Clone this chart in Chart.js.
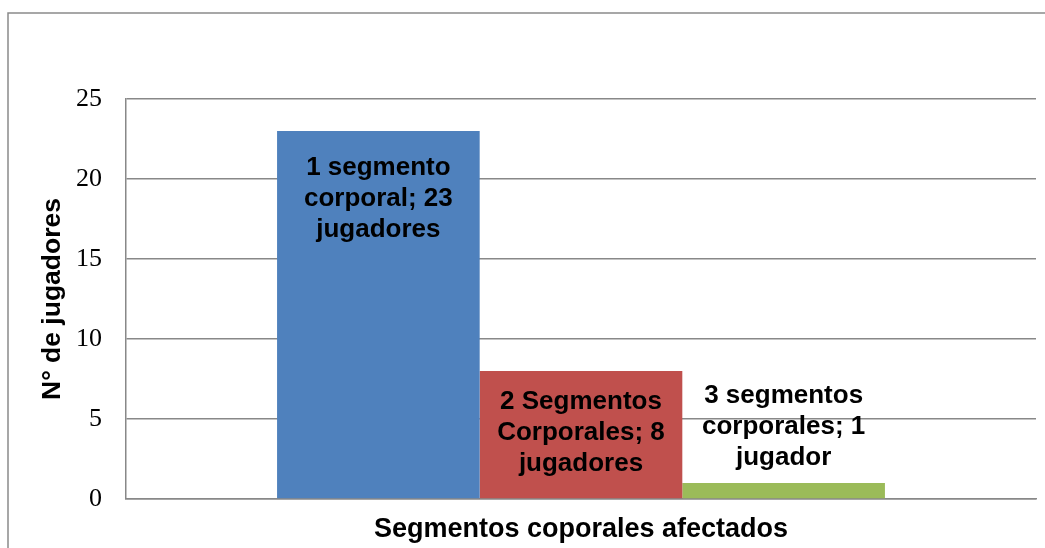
<!DOCTYPE html>
<html>
<head>
<meta charset="utf-8">
<script src="https://cdn.jsdelivr.net/npm/chart.js@4.4.0/dist/chart.umd.min.js"></script>
<style>
  html, body { margin: 0; padding: 0; background: #fff; }
  #wrap { width: 1045px; height: 548px; position: relative; }
</style>
</head>
<body>
<div id="wrap"><canvas id="chart" width="1045" height="548"></canvas></div>
<script>
// ── Datos ──
const categories = ['Segmentos coporales afectados'];
const seriesNames = ['1 segmento corporal', '2 Segmentos Corporales', '3 segmentos corporales'];
const seriesValues = [23, 8, 1];
const seriesColors = ['#4F81BD', '#C0504D', '#9BBB59'];
const barLabels = [
  ['1 segmento', 'corporal; 23', 'jugadores'],
  ['2 Segmentos', 'Corporales; 8', 'jugadores'],
  ['3 segmentos', 'corporales; 1', 'jugador'],
];
const yTicks = [0, 5, 10, 15, 20, 25];

const GRID = '#888888';

// marco exterior (izquierda, arriba)
const framePlugin = {
  id: 'frame',
  beforeDraw(chart) {
    const ctx = chart.ctx;
    ctx.save();
    ctx.strokeStyle = '#8a8a8a';
    ctx.lineWidth = 1.5;
    ctx.beginPath();
    ctx.moveTo(8, 548);
    ctx.lineTo(8, 13);
    ctx.lineTo(1045, 13);
    ctx.stroke();
    ctx.restore();
  }
};

// etiquetas de datos dentro/encima de las barras
const labelPlugin = {
  id: 'barLabels',
  afterDatasetsDraw(chart) {
    const ctx = chart.ctx;
    ctx.save();
    ctx.font = 'bold 26px "Liberation Sans", Arial, sans-serif';
    ctx.fillStyle = '#000';
    ctx.textAlign = 'center';
    ctx.textBaseline = 'middle';
    const lh = 31;
    chart.data.datasets.forEach((ds, i) => {
      const bar = chart.getDatasetMeta(i).data[0];
      const lines = barLabels[i];
      let y0;
      if (i === 2) y0 = bar.y - 25 - lh * (lines.length - 1);
      else y0 = bar.y + (i === 0 ? 37 : 31);
      lines.forEach((t, k) => ctx.fillText(t, bar.x, y0 + k * lh));
    });
    ctx.restore();
  }
};

new Chart(document.getElementById('chart'), {
  type: 'bar',
  data: {
    labels: categories,
    datasets: seriesNames.map((name, i) => ({
      label: name,
      data: [seriesValues[i]],
      backgroundColor: seriesColors[i],
      borderWidth: 0,
      barPercentage: 1,
      categoryPercentage: 0.668,
    })),
  },
  options: {
    responsive: false,
    animation: false,
    layout: { padding: { top: 99, right: 9, bottom: 0, left: 0 } },
    plugins: {
      legend: { display: false },
      tooltip: { enabled: false },
    },
    scales: {
      x: {
        afterFit: s => { s.height = 49; },
        grid: { display: false },
        border: { display: true, color: GRID, width: 1.5 },
        ticks: { display: false },
        title: {
          display: true,
          text: categories[0],
          color: '#000',
          font: { family: '"Liberation Sans", Arial, sans-serif', size: 27, weight: 'bold' },
          padding: { top: 0, bottom: 2 },
        },
      },
      y: {
        min: 0, max: 25,
        afterFit: s => { s.width = 126; },
        afterBuildTicks: s => { s.ticks = yTicks.map(v => ({ value: v })); },
        grid: { color: GRID, lineWidth: 1.5, drawTicks: false },
        border: { display: true, color: GRID, width: 1.5 },
        ticks: {
          padding: 24,
          color: '#000',
          font: { family: '"Liberation Serif", "Times New Roman", serif', size: 26 },
        },
        title: {
          display: true,
          text: 'N° de jugadores',
          color: '#000',
          font: { family: '"Liberation Sans", Arial, sans-serif', size: 26.5, weight: 'bold' },
          padding: { top: 37, bottom: 0 },
        },
      },
    },
  },
  plugins: [framePlugin, labelPlugin],
});
</script>
</body>
</html>
